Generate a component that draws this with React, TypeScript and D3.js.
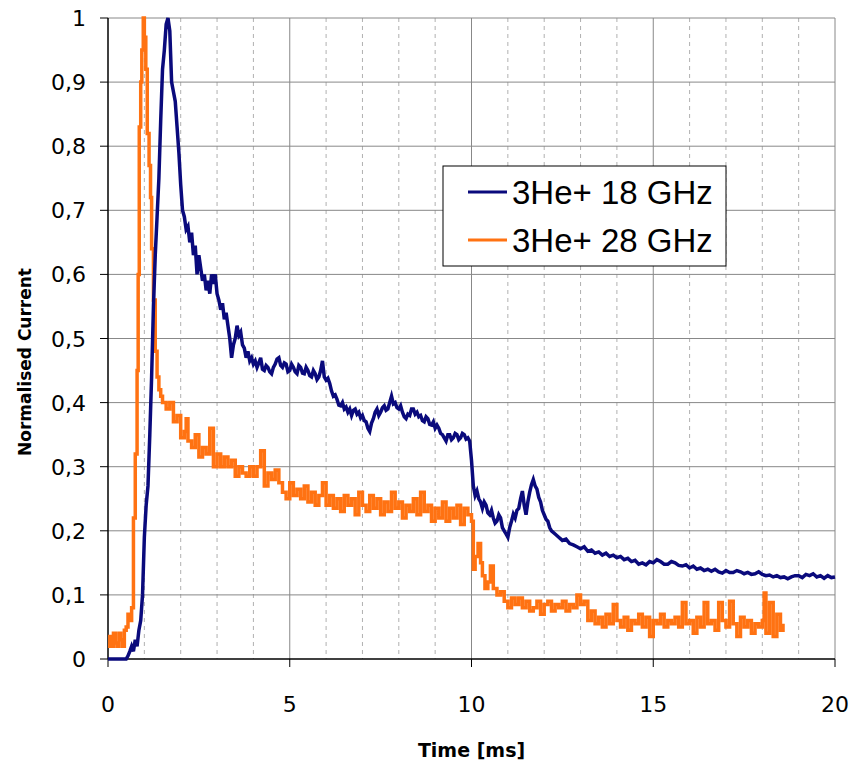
import React, { useEffect, useRef } from 'react'
import { select, scaleLinear, line, curveLinear, curveStepAfter, range } from 'd3'

// time [ms], normalised current
const blue18: [number, number][] = [
  [0, 0], [0.2, 0], [0.4, 0], [0.5, 0], [0.55, 0.005], [0.6, 0.012], [0.65, 0.02], [0.7, 0.012],
  [0.75, 0.03], [0.8, 0.02], [0.85, 0.045], [0.9, 0.06], [0.95, 0.1], [1.0, 0.19], [1.05, 0.24],
  [1.1, 0.27], [1.15, 0.35], [1.2, 0.44], [1.25, 0.55], [1.3, 0.63], [1.35, 0.69], [1.4, 0.75],
  [1.45, 0.84], [1.5, 0.92], [1.55, 0.95], [1.6, 0.99], [1.65, 1.0], [1.7, 0.98], [1.75, 0.9],
  [1.8, 0.885], [1.85, 0.87], [1.9, 0.83], [1.95, 0.79], [2.0, 0.74], [2.05, 0.7], [2.1, 0.69],
  [2.15, 0.67], [2.2, 0.675], [2.25, 0.65], [2.3, 0.665], [2.35, 0.63], [2.4, 0.645], [2.45, 0.6],
  [2.5, 0.63], [2.55, 0.61], [2.6, 0.59], [2.65, 0.6], [2.7, 0.575], [2.75, 0.59], [2.8, 0.57],
  [2.85, 0.6], [2.9, 0.585], [2.95, 0.6], [3.0, 0.57], [3.05, 0.56], [3.1, 0.545], [3.15, 0.555],
  [3.2, 0.53], [3.25, 0.54], [3.3, 0.52], [3.35, 0.5], [3.4, 0.47], [3.45, 0.49], [3.5, 0.5],
  [3.55, 0.52], [3.6, 0.505], [3.65, 0.51], [3.7, 0.49], [3.75, 0.485], [3.8, 0.47], [3.85, 0.48],
  [3.9, 0.465], [3.95, 0.47], [4.0, 0.46], [4.05, 0.465], [4.1, 0.455], [4.15, 0.462], [4.2, 0.47],
  [4.25, 0.452], [4.3, 0.45], [4.35, 0.458], [4.4, 0.455], [4.45, 0.448], [4.5, 0.445], [4.55, 0.455],
  [4.6, 0.46], [4.65, 0.468], [4.7, 0.47], [4.75, 0.458], [4.8, 0.455], [4.85, 0.462], [4.9, 0.46],
  [4.95, 0.448], [5.0, 0.45], [5.05, 0.46], [5.1, 0.455], [5.15, 0.448], [5.2, 0.445], [5.25, 0.458],
  [5.3, 0.455], [5.35, 0.446], [5.4, 0.445], [5.45, 0.455], [5.5, 0.45], [5.55, 0.442], [5.6, 0.44],
  [5.65, 0.45], [5.7, 0.445], [5.75, 0.436], [5.8, 0.44], [5.85, 0.45], [5.9, 0.465], [5.95, 0.44],
  [6.0, 0.435], [6.05, 0.438], [6.1, 0.43], [6.15, 0.418], [6.2, 0.41], [6.25, 0.412], [6.3, 0.405],
  [6.35, 0.396], [6.4, 0.395], [6.45, 0.4], [6.5, 0.39], [6.55, 0.393], [6.6, 0.385], [6.65, 0.39],
  [6.7, 0.38], [6.75, 0.388], [6.8, 0.39], [6.85, 0.382], [6.9, 0.385], [6.95, 0.376], [7.0, 0.38],
  [7.05, 0.372], [7.1, 0.37], [7.15, 0.36], [7.2, 0.355], [7.25, 0.368], [7.3, 0.375], [7.35, 0.385],
  [7.4, 0.39], [7.45, 0.38], [7.5, 0.385], [7.55, 0.392], [7.6, 0.395], [7.65, 0.388], [7.7, 0.39],
  [7.75, 0.4], [7.8, 0.41], [7.85, 0.398], [7.9, 0.4], [7.95, 0.392], [8.0, 0.39], [8.05, 0.395],
  [8.1, 0.385], [8.15, 0.378], [8.2, 0.375], [8.25, 0.382], [8.3, 0.38], [8.35, 0.39], [8.4, 0.39],
  [8.45, 0.382], [8.5, 0.385], [8.55, 0.378], [8.6, 0.38], [8.65, 0.372], [8.7, 0.37], [8.75, 0.378],
  [8.8, 0.375], [8.85, 0.366], [8.9, 0.365], [8.95, 0.37], [9.0, 0.36], [9.05, 0.365], [9.1, 0.36],
  [9.15, 0.352], [9.2, 0.35], [9.25, 0.345], [9.3, 0.34], [9.35, 0.35], [9.4, 0.35], [9.45, 0.342],
  [9.5, 0.345], [9.55, 0.352], [9.6, 0.35], [9.65, 0.342], [9.7, 0.345], [9.75, 0.352], [9.8, 0.35],
  [9.85, 0.343], [9.9, 0.345], [9.95, 0.34], [10.0, 0.31], [10.05, 0.27], [10.1, 0.255], [10.15, 0.262],
  [10.2, 0.25], [10.25, 0.245], [10.3, 0.235], [10.35, 0.245], [10.4, 0.24], [10.45, 0.228], [10.5, 0.225],
  [10.55, 0.232], [10.6, 0.22], [10.65, 0.212], [10.7, 0.215], [10.75, 0.225], [10.8, 0.22], [10.85, 0.205],
  [10.9, 0.2], [10.95, 0.195], [11.0, 0.19], [11.05, 0.205], [11.1, 0.215], [11.15, 0.226], [11.2, 0.22],
  [11.25, 0.232], [11.3, 0.235], [11.35, 0.25], [11.4, 0.262], [11.45, 0.24], [11.5, 0.225], [11.55, 0.245],
  [11.6, 0.26], [11.65, 0.272], [11.7, 0.28], [11.75, 0.27], [11.8, 0.265], [11.85, 0.252], [11.9, 0.245],
  [11.95, 0.232], [12.0, 0.225], [12.05, 0.218], [12.1, 0.215], [12.15, 0.205], [12.2, 0.2], [12.3, 0.195],
  [12.4, 0.19], [12.5, 0.185], [12.6, 0.187], [12.7, 0.18], [12.8, 0.178], [12.9, 0.175], [13.0, 0.172],
  [13.1, 0.175], [13.2, 0.168], [13.3, 0.17], [13.4, 0.165], [13.5, 0.167], [13.6, 0.162], [13.7, 0.165],
  [13.8, 0.16], [13.9, 0.162], [14.0, 0.158], [14.1, 0.16], [14.2, 0.155], [14.3, 0.157], [14.4, 0.152],
  [14.5, 0.154], [14.6, 0.148], [14.7, 0.15], [14.8, 0.147], [14.9, 0.152], [15.0, 0.15], [15.1, 0.155],
  [15.2, 0.152], [15.3, 0.148], [15.4, 0.148], [15.5, 0.152], [15.6, 0.15], [15.7, 0.146], [15.8, 0.145],
  [15.9, 0.147], [16.0, 0.142], [16.1, 0.145], [16.2, 0.14], [16.3, 0.142], [16.4, 0.138], [16.5, 0.14],
  [16.6, 0.137], [16.7, 0.14], [16.8, 0.136], [16.9, 0.134], [17.0, 0.138], [17.1, 0.135], [17.2, 0.135],
  [17.3, 0.138], [17.4, 0.136], [17.5, 0.133], [17.6, 0.135], [17.7, 0.132], [17.8, 0.133], [17.9, 0.136],
  [18.0, 0.132], [18.1, 0.13], [18.2, 0.131], [18.3, 0.128], [18.4, 0.13], [18.5, 0.127], [18.6, 0.128],
  [18.7, 0.125], [18.8, 0.128], [18.9, 0.13], [19.0, 0.13], [19.1, 0.127], [19.2, 0.132], [19.3, 0.13],
  [19.4, 0.133], [19.5, 0.128], [19.6, 0.13], [19.7, 0.126], [19.8, 0.13], [19.9, 0.127], [20.0, 0.128],
]

const orange28: [number, number][] = [
  [0, 0.02], [0.05, 0.035], [0.1, 0.02], [0.15, 0.04], [0.2, 0.025], [0.25, 0.02], [0.3, 0.04],
  [0.35, 0.03], [0.4, 0.02], [0.45, 0.045], [0.5, 0.05], [0.55, 0.07], [0.6, 0.06], [0.65, 0.08],
  [0.7, 0.22], [0.75, 0.32], [0.8, 0.45], [0.83, 0.6], [0.86, 0.83], [0.9, 0.9], [0.93, 0.95],
  [0.97, 1.0], [1.0, 0.97], [1.04, 0.92], [1.08, 0.82], [1.13, 0.77], [1.17, 0.72], [1.2, 0.64],
  [1.25, 0.56], [1.3, 0.48], [1.35, 0.44], [1.4, 0.42], [1.45, 0.41], [1.5, 0.4], [1.6, 0.39],
  [1.7, 0.4], [1.8, 0.37], [1.9, 0.38], [2.0, 0.345], [2.1, 0.355], [2.15, 0.375], [2.2, 0.34],
  [2.3, 0.33], [2.4, 0.35], [2.5, 0.315], [2.6, 0.33], [2.7, 0.32], [2.8, 0.36], [2.9, 0.3],
  [3.0, 0.32], [3.1, 0.3], [3.2, 0.315], [3.3, 0.3], [3.4, 0.31], [3.5, 0.285], [3.6, 0.3],
  [3.7, 0.29], [3.8, 0.285], [3.9, 0.3], [4.0, 0.285], [4.1, 0.3], [4.2, 0.325], [4.3, 0.27],
  [4.4, 0.29], [4.5, 0.28], [4.6, 0.295], [4.7, 0.275], [4.8, 0.26], [4.9, 0.25], [5.0, 0.275],
  [5.1, 0.255], [5.2, 0.265], [5.3, 0.25], [5.4, 0.27], [5.5, 0.245], [5.6, 0.26], [5.7, 0.24],
  [5.8, 0.255], [5.9, 0.275], [6.0, 0.24], [6.1, 0.255], [6.2, 0.235], [6.3, 0.25], [6.4, 0.23],
  [6.5, 0.255], [6.6, 0.24], [6.7, 0.25], [6.8, 0.225], [6.9, 0.26], [7.0, 0.24], [7.1, 0.23],
  [7.2, 0.255], [7.3, 0.235], [7.4, 0.25], [7.5, 0.225], [7.6, 0.245], [7.7, 0.23], [7.8, 0.26],
  [7.9, 0.235], [8.0, 0.245], [8.1, 0.22], [8.2, 0.24], [8.3, 0.23], [8.4, 0.25], [8.5, 0.225],
  [8.6, 0.26], [8.7, 0.23], [8.8, 0.24], [8.9, 0.215], [9.0, 0.235], [9.1, 0.22], [9.2, 0.245],
  [9.3, 0.215], [9.4, 0.235], [9.5, 0.22], [9.6, 0.24], [9.7, 0.21], [9.8, 0.235], [9.9, 0.225],
  [10.0, 0.215], [10.05, 0.14], [10.1, 0.16], [10.18, 0.18], [10.25, 0.15], [10.3, 0.13], [10.37, 0.11],
  [10.45, 0.12], [10.52, 0.145], [10.6, 0.11], [10.7, 0.1], [10.8, 0.105], [10.9, 0.09], [11.0, 0.08],
  [11.1, 0.095], [11.2, 0.085], [11.3, 0.095], [11.4, 0.08], [11.5, 0.09], [11.6, 0.075], [11.7, 0.08],
  [11.8, 0.09], [11.9, 0.07], [12.0, 0.085], [12.1, 0.09], [12.2, 0.075], [12.3, 0.085], [12.4, 0.08],
  [12.5, 0.09], [12.6, 0.075], [12.7, 0.085], [12.8, 0.08], [12.9, 0.1], [13.0, 0.085], [13.1, 0.09],
  [13.2, 0.06], [13.3, 0.075], [13.4, 0.055], [13.5, 0.065], [13.6, 0.05], [13.7, 0.07], [13.8, 0.055],
  [13.9, 0.085], [14.0, 0.06], [14.1, 0.05], [14.2, 0.065], [14.3, 0.045], [14.4, 0.06], [14.5, 0.055],
  [14.6, 0.07], [14.7, 0.05], [14.8, 0.065], [14.9, 0.035], [15.0, 0.06], [15.1, 0.055], [15.2, 0.07],
  [15.3, 0.05], [15.4, 0.06], [15.5, 0.055], [15.6, 0.065], [15.7, 0.05], [15.8, 0.088], [15.9, 0.055],
  [16.0, 0.06], [16.1, 0.04], [16.2, 0.065], [16.3, 0.05], [16.4, 0.088], [16.5, 0.055], [16.6, 0.06],
  [16.7, 0.045], [16.8, 0.088], [16.9, 0.06], [17.0, 0.05], [17.1, 0.09], [17.2, 0.055], [17.3, 0.035],
  [17.4, 0.065], [17.5, 0.05], [17.6, 0.06], [17.7, 0.04], [17.8, 0.055], [17.9, 0.05], [18.0, 0.06],
  [18.05, 0.103], [18.1, 0.04], [18.2, 0.088], [18.3, 0.035], [18.4, 0.07], [18.5, 0.045], [18.57, 0.055],
]

const yTickLabels = ['0', '0,1', '0,2', '0,3', '0,4', '0,5', '0,6', '0,7', '0,8', '0,9', '1']
const xTickLabels = ['0', '5', '10', '15', '20']
const seriesNames = ['3He+ 18 GHz', '3He+ 28 GHz']
const seriesColors = ['#0a0a7c', '#ff7212']

const App = () => {
  const svgRef = useRef<SVGSVGElement>(null)

  useEffect(() => {
    const svg = select(svgRef.current)
    svg.selectAll('*').remove()

    const left = 108, right = 835, top = 18, bottom = 659
    const x = scaleLinear().domain([0, 20]).range([left, right])
    const y = scaleLinear().domain([0, 1]).range([bottom, top])

    const grid = svg.append('g')
    // minor dashed verticals every ms
    grid.selectAll('.minor')
      .data(range(1, 20).filter(d => d % 5 !== 0))
      .join('line')
      .attr('x1', d => x(d)).attr('x2', d => x(d))
      .attr('y1', top).attr('y2', bottom)
      .attr('stroke', '#b0b0b0').attr('stroke-dasharray', '4,4')
    // major verticals
    grid.selectAll('.major')
      .data([5, 10, 15, 20])
      .join('line')
      .attr('x1', d => x(d)).attr('x2', d => x(d))
      .attr('y1', top).attr('y2', bottom)
      .attr('stroke', '#888')
    // horizontals
    grid.selectAll('.h')
      .data(range(1, 11).map(d => d / 10))
      .join('line')
      .attr('x1', left).attr('x2', right)
      .attr('y1', d => y(d)).attr('y2', d => y(d))
      .attr('stroke', '#888')

    // axes
    svg.append('line').attr('x1', left).attr('x2', left).attr('y1', top).attr('y2', bottom)
      .attr('stroke', '#000').attr('stroke-width', 1.5)
    svg.append('line').attr('x1', left).attr('x2', right).attr('y1', bottom).attr('y2', bottom)
      .attr('stroke', '#000').attr('stroke-width', 1.5)

    svg.append('g').selectAll('line')
      .data(yTickLabels)
      .join('line')
      .attr('x1', left - 8).attr('x2', left)
      .attr('y1', (d, i) => y(i / 10)).attr('y2', (d, i) => y(i / 10))
      .attr('stroke', '#000')
    svg.append('g').selectAll('text')
      .data(yTickLabels)
      .join('text')
      .attr('x', 86)
      .attr('y', (d, i) => y(i / 10) + 8)
      .attr('text-anchor', 'end')
      .attr('font-family', 'DejaVu Sans')
      .attr('font-size', 22)
      .text(d => d)

    svg.append('g').selectAll('line')
      .data(xTickLabels)
      .join('line')
      .attr('x1', (d, i) => x(i * 5)).attr('x2', (d, i) => x(i * 5))
      .attr('y1', bottom).attr('y2', bottom + 8)
      .attr('stroke', '#000')
    svg.append('g').selectAll('text')
      .data(xTickLabels)
      .join('text')
      .attr('x', (d, i) => x(i * 5))
      .attr('y', 712)
      .attr('text-anchor', 'middle')
      .attr('font-family', 'DejaVu Sans')
      .attr('font-size', 22)
      .text(d => d)

    svg.append('text')
      .attr('x', x(10)).attr('y', 757)
      .attr('text-anchor', 'middle')
      .attr('font-family', 'DejaVu Sans').attr('font-weight', 'bold').attr('font-size', 19)
      .text('Time [ms]')
    svg.append('text')
      .attr('transform', 'translate(31,362) rotate(-90)')
      .attr('text-anchor', 'middle')
      .attr('font-family', 'DejaVu Sans').attr('font-weight', 'bold').attr('font-size', 17)
      .text('Normalised Current')

    // series
    const blueLine = line<[number, number]>().x(d => x(d[0])).y(d => y(d[1])).curve(curveLinear)
    const orangeLine = line<[number, number]>().x(d => x(d[0])).y(d => y(d[1])).curve(curveStepAfter)

    svg.append('path').datum(orange28)
      .attr('d', orangeLine).attr('fill', 'none')
      .attr('stroke', seriesColors[1]).attr('stroke-width', 3.5)
    svg.append('path').datum(blue18)
      .attr('d', blueLine).attr('fill', 'none')
      .attr('stroke', seriesColors[0]).attr('stroke-width', 3.5)

    // legend
    const legend = svg.append('g')
    legend.append('rect')
      .attr('x', 443).attr('y', 166).attr('width', 283).attr('height', 100)
      .attr('fill', '#fff').attr('stroke', '#000')
    seriesNames.forEach((name, i) => {
      const ly = 192 + i * 48
      legend.append('line')
        .attr('x1', 468).attr('x2', 507).attr('y1', ly).attr('y2', ly)
        .attr('stroke', seriesColors[i]).attr('stroke-width', 3)
      legend.append('text')
        .attr('x', 512).attr('y', ly + 12)
        .attr('font-family', 'Liberation Sans').attr('font-size', 33)
        .text(name)
    })
  }, [])

  return (
    <svg ref={svgRef} width={852} height={766}
      style={{ position: 'absolute', left: 0, top: 0, background: '#fff' }} />
  )
}

export default App
